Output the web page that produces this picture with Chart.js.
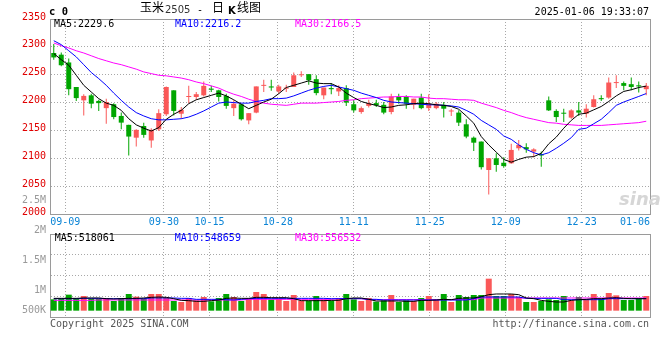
<!DOCTYPE html>
<html><head><meta charset="utf-8">
<script src="https://cdn.jsdelivr.net/npm/chart.js@4.4.1/dist/chart.umd.min.js"></script>
<style>
body{margin:0;background:#fff;}
#wrap{position:relative;width:660px;height:360px;overflow:hidden;background:#fff;}
canvas{position:absolute;left:0;}
.t{position:absolute;white-space:pre;font-family:'DejaVu Sans Mono',monospace;font-size:10px;line-height:10px;color:#000;}
.cj{position:absolute;white-space:pre;font-family:'Noto Sans CJK SC',sans-serif;font-size:12px;line-height:12px;color:#000;}
</style></head><body>
<div id="wrap">
<canvas id="pc" width="660" height="232" style="top:0"></canvas>
<canvas id="vc" width="660" height="170" style="top:190px"></canvas>
<div class="t" style="left:49px;top:6px;font-weight:bold;font-size:10.5px;line-height:10.5px">c 0</div>
<div class="cj" style="left:140px;top:1.4px">玉米</div>
<div class="t" style="left:165px;top:4.8px;font-family:'DejaVu Sans';color:#333">2505</div>
<div class="t" style="left:197px;top:4.8px">-</div>
<div class="cj" style="left:212px;top:1.4px">日</div>
<div class="t" style="left:228px;top:5.5px;font-family:'DejaVu Sans';font-weight:bold">K</div>
<div class="cj" style="left:237px;top:1.4px">线图</div>
<div class="t" style="right:11px;top:6.5px">2025-01-06 19:33:07</div>
<div class="t" id="pm5" style="left:54px;top:18.8px;color:#000"></div>
<div class="t" id="pm10" style="left:175px;top:18.8px;color:#0000ff"></div>
<div class="t" id="pm30" style="left:295px;top:18.8px;color:#ff00ff"></div>
<div class="t" id="vm5" style="left:54.7px;top:233.2px;color:#000"></div>
<div class="t" id="vm10" style="left:174.7px;top:233.2px;color:#0000ff"></div>
<div class="t" id="vm30" style="left:295px;top:233.2px;color:#ff00ff"></div>
<div class="t" style="left:50px;top:318.8px;color:#555">Copyright 2025 SINA.COM</div>
<div class="t" style="right:11px;top:318.5px;color:#555">http://finance.sina.com.cn</div>
<div class="t" style="left:619px;top:190px;font-family:'DejaVu Sans';font-size:18px;line-height:18px;font-weight:bold;font-style:italic;color:#d6d6d6">sina</div>
</div>
<script>
// ---------- data ----------
const DATE_LABELS = ['09-09','09-30','10-15','10-28','11-11','11-25','12-09','12-23','01-06'];
const DATE_IDX    = [2, 15, 21, 30, 40, 50, 60, 70, 79];

const OPEN  = [2289,2286,2272,2228,2204,2213,2203,2190,2197,2176,2160,2137,2158,2132,2152,2179,2222,2180,2210,2210,
               2213,2225,2222,2212,2190,2197,2168,2182,2230,2229,2220,2225,2228,2249,2251,2242,2213,2226,2220,2226,
               2197,2183,2194,2199,2196,2183,2210,2210,2196,2209,2190,2190,2196,2184,2182,2161,2137,2130,2079,2100,
               2092,2091,2118,2120,2112,2107,2204,2185,2181,2173,2186,2180,2192,2208,2209,2235,2235,2233,2231,2224];
const HIGH  = [2305,2290,2279,2228,2215,2216,2205,2207,2199,2182,2160,2152,2164,2154,2188,2229,2222,2192,2230,2219,
               2238,2230,2223,2216,2204,2198,2181,2229,2241,2241,2232,2232,2254,2256,2251,2249,2227,2235,2231,2231,
               2204,2193,2205,2205,2201,2216,2216,2213,2207,2216,2215,2201,2201,2189,2186,2170,2139,2130,2100,2109,
               2102,2126,2133,2127,2118,2112,2211,2188,2189,2188,2201,2197,2213,2213,2245,2249,2238,2245,2238,2235];
const LOW   = [2277,2265,2213,2203,2177,2190,2185,2162,2170,2152,2105,2121,2137,2119,2149,2176,2177,2171,2199,2205,
               2211,2219,2202,2189,2176,2168,2161,2181,2219,2221,2216,2219,2228,2246,2232,2213,2206,2215,2212,2194,
               2182,2180,2191,2192,2179,2179,2198,2189,2188,2188,2185,2188,2173,2176,2158,2136,2113,2080,2035,2076,
               2083,2090,2114,2110,2102,2085,2185,2165,2165,2171,2176,2173,2191,2203,2207,2226,2222,2222,2218,2213];
const CLOSE = [2281,2267,2224,2208,2212,2198,2199,2201,2174,2164,2139,2151,2142,2151,2181,2228,2185,2187,2211,2215,
               2230,2223,2210,2194,2198,2170,2181,2229,2231,2227,2229,2226,2249,2250,2240,2217,2227,2224,2226,2200,
               2186,2190,2199,2195,2182,2211,2204,2198,2207,2190,2198,2198,2189,2185,2164,2139,2128,2084,2100,2088,
               2086,2115,2124,2116,2116,2105,2186,2174,2180,2186,2182,2189,2206,2206,2236,2236,2230,2228,2229,2230];
const MA5   = [2288,2277,2267,2249,2231,2219,2207,2199,2195,2186,2171,2160,2154,2149,2155,2170,2179,2186,2198,2205,
               2209,2213,2217,2212,2205,2197,2189,2195,2201,2206,2216,2227,2231,2235,2239,2235,2234,2234,2228,2217,
               2209,2202,2198,2195,2191,2192,2195,2196,2198,2199,2198,2196,2195,2193,2188,2176,2163,2139,2124,2111,
               2098,2093,2098,2102,2103,2109,2126,2138,2154,2168,2179,2181,2187,2193,2202,2212,2220,2223,2227,2229.6];
const MA10  = [2311,2304,2293,2282,2268,2254,2243,2231,2217,2204,2192,2182,2176,2171,2169,2169,2170,2171,2174,2179,
               2185,2192,2199,2201,2200,2199,2199,2202,2204,2207,2207,2208,2212,2217,2222,2226,2229,2231,2228,2225,
               2222,2217,2213,2209,2204,2201,2200,2199,2198,2197,2196,2196,2195,2194,2192,2186,2179,2168,2160,2152,
               2140,2134,2124,2116,2110,2106,2110,2118,2127,2137,2152,2154,2162,2170,2182,2195,2201,2206,2211,2216.2];
const MA30  = [2307,2302,2298,2293,2289,2284,2279,2275,2271,2268,2264,2260,2255,2252,2249,2248,2246,2244,2241,2237,
               2234,2230,2226,2220,2215,2211,2206,2202,2199,2197,2196,2195,2197,2199,2199,2199,2200,2201,2202,2204,
               2205,2207,2208,2209,2210,2210,2211,2211,2210,2210,2208,2207,2207,2206,2205,2205,2204,2199,2195,2191,
               2186,2182,2177,2173,2170,2167,2164,2163,2161,2160,2159,2159,2159,2159,2160,2161,2162,2163,2164,2166.5];

// volume (thousands of lots)
const VOL   = [459,486,648,513,594,486,486,513,391,513, 675,567,486,675,675,513,391,351,513,418,
               553,378,513,675,553,391,486,755,675,459, 486,391,634,405,405,594,459,405,513,675,
               459,391,513,364,418,634,351,418,391,513, 594,432,675,351,634,553,634,634,1295,594,
               594,675,553,351,351,391,459,432,594,418, 553,459,675,486,715,621,432,432,513,594];
const VMA5  = [499,499,499,499,513,513,513,486,472,486, 499,499,513,540,553,540,486,418,405,378,
               378,405,432,499,513,499,499,540,540,526, 526,526,486,405,405,405,405,418,418,486,
               513,513,459,391,391,391,391,378,378,418, 418,432,459,445,499,513,513,567,648,675,
               675,675,648,513,486,418,378,351,351,418, 445,459,486,486,513,526,499,486,486,486];
const VMA10 = [486,486,486,486,499,499,499,486,486,486, 486,486,486,513,513,513,513,499,499,459,
               459,459,459,445,432,459,486,499,499,499, 499,499,499,499,499,499,499,486,486,486,
               486,486,459,459,432,432,432,432,432,432, 432,432,432,432,432,432,486,553,553,553,
               553,553,553,499,499,499,499,499,445,445, 445,445,445,445,486,486,486,486,486,486];
const VMA30 = [418,418,418,418,418,418,432,432,432,432, 432,432,432,432,432,432,432,432,432,432,
               432,432,432,432,432,432,459,459,459,459, 459,459,459,459,459,459,459,459,486,486,
               486,486,445,445,445,445,445,445,445,445, 445,445,445,445,445,445,445,513,513,513,
               513,513,513,513,513,513,513,513,513,513, 513,513,513,513,513,513,513,513,513,513];

const PRICE_LEGEND = ['MA5:2229.6','MA10:2216.2','MA30:2166.5'];
const VOL_LEGEND   = ['MA5:518061','MA10:548659','MA30:556532'];
const VOL_TICK_VALUES = [2500000, 2000000, 1500000, 1000000, 500000];
const VOL_TICK_LABELS = ['2.5M','2M','1.5M','1M','500K'];

// ---------- styles ----------
const UP = '#fa5858', DOWN = '#00a600';
const GRID = '#a8a8a8', BORDER = '#9a9a9a', DASH = [1,2];
const FONT = {family:'DejaVu Sans Mono', size:10};

document.getElementById('pm5').textContent = PRICE_LEGEND[0];
document.getElementById('pm10').textContent = PRICE_LEGEND[1];
document.getElementById('pm30').textContent = PRICE_LEGEND[2];
document.getElementById('vm5').textContent = VOL_LEGEND[0];
document.getElementById('vm10').textContent = VOL_LEGEND[1];
document.getElementById('vm30').textContent = VOL_LEGEND[2];

const N = OPEN.length;
const IDX = OPEN.map((_, i) => i);
const COLORS = IDX.map(i => CLOSE[i] >= OPEN[i] ? UP : DOWN);
const pts = arr => arr.map((v, i) => ({x: i, y: v}));

const borderAxis = (position) => ({
  type:'linear', position, min:0, max:1,
  grid:{display:false, drawTicks:false}, ticks:{display:false},
  border:{display:true, color:BORDER, width:1},
  afterFit: s => { if (position==='top'||position==='bottom') s.height = 0; else s.width = 0; }
});
const dateAxis = () => ({
  type:'linear', position:'bottom', min:0, max:N-1, offset:false,
  afterBuildTicks: s => { s.ticks = DATE_IDX.map(v => ({value:v})); },
  ticks:{display:false},
  grid:{color:GRID, lineWidth:1, drawTicks:false, offset:false},
  border:{display:true, color:BORDER, width:1, dash:DASH},
  afterFit: s => { s.height = 0; }
});
const lineDS = (data, color, xID, yID) => ({
  type:'line', data: pts(data), borderColor:color, borderWidth:1, pointRadius:0,
  tension:0, fill:false, xAxisID:xID, yAxisID:yID
});

const dateLabelPlugin = {
  id:'dateLabels',
  afterDraw(chart) {
    const sc = chart.scales.xd, ca = chart.chartArea, ctx = chart.ctx;
    ctx.save();
    ctx.font = '10px "DejaVu Sans Mono"';
    ctx.fillStyle = '#0a84d6';
    ctx.textBaseline = 'alphabetic';
    ctx.textAlign = 'left';
    DATE_IDX.forEach((idx, k) => {
      const s = DATE_LABELS[k];
      const w = ctx.measureText(s).width;
      let x = sc.getPixelForValue(idx) - w / 2;
      x = Math.max(ca.left, Math.min(x, ca.right - w));
      ctx.fillText(s, x, ca.bottom + 11);
    });
    ctx.restore();
  }
};

const common = {
  responsive:false, maintainAspectRatio:false, animation:false, devicePixelRatio:1, events:[],
  plugins:{legend:{display:false}, tooltip:{enabled:false}, title:{display:false}}
};

// ---------- price chart ----------
new Chart(document.getElementById('pc'), {
  type:'line',
  data:{datasets:[
    lineDS(MA5, '#000000', 'x', 'y'),
    lineDS(MA10, '#0000ff', 'x', 'y'),
    lineDS(MA30, '#ff00ff', 'x', 'y'),
    {type:'bar', data: IDX.map(i => ({x:i, y:[OPEN[i], CLOSE[i]]})), backgroundColor:COLORS,
     barThickness:5, minBarLength:1, grouped:false, borderWidth:0, inflateAmount:0, xAxisID:'x', yAxisID:'y'},
    {type:'bar', data: IDX.map(i => ({x:i, y:[LOW[i], HIGH[i]]})), backgroundColor:COLORS,
     barThickness:1, grouped:false, borderWidth:0, inflateAmount:0, xAxisID:'x', yAxisID:'y'}
  ]},
  options:Object.assign({}, common, {
    layout:{padding:{left:0, right:10, top:19, bottom:18}},
    scales:{
      x:{type:'linear', min:-0.5, max:N-0.5, display:false, offset:false},
      xd: dateAxis(),
      xt: borderAxis('top'),
      y:{type:'linear', position:'left', min:2000, max:2350,
         ticks:{stepSize:50, color:'#e00000', font:FONT, padding:4, labelOffset:-2, autoSkip:false,
                callback: v => String(v)},
         grid:{color:GRID, lineWidth:1, drawTicks:false},
         border:{display:true, color:BORDER, width:1, dash:DASH},
         afterFit: s => { s.width = 50; }},
      yr: borderAxis('right')
    }
  }),
  plugins:[dateLabelPlugin]
});

// ---------- volume chart ----------
new Chart(document.getElementById('vc'), {
  type:'line',
  data:{datasets:[
    lineDS(VMA5.map(v => v*1000), '#000000', 'xv', 'yv'),
    lineDS(VMA10.map(v => v*1000), '#0000ff', 'xv', 'yv'),
    lineDS(VMA30.map(v => v*1000), '#ff00ff', 'xv', 'yv'),
    {type:'bar', data: IDX.map(i => ({x:i, y:VOL[i]*1000})), backgroundColor:COLORS,
     barThickness:6, grouped:false, borderWidth:0, inflateAmount:0, xAxisID:'xv', yAxisID:'yv'}
  ]},
  options:Object.assign({}, common, {
    layout:{padding:{left:0, right:10, top:44, bottom:43}},
    scales:{
      xv:{type:'linear', min:-0.5, max:N-0.5, display:false, offset:false},
      xd: dateAxis(),
      xvt: borderAxis('top'),
      yv:{type:'linear', position:'left', weight:0, min:-256000, max:3103000,
          afterBuildTicks: s => { s.ticks = [0,1,2,3,4].map(k => ({value: s.min + k*(s.max-s.min)/4})); },
          ticks:{display:false},
          grid:{color:GRID, lineWidth:1, drawTicks:false},
          border:{display:true, color:BORDER, width:1, dash:DASH},
          afterFit: s => { s.width = 0; }},
      yl:{type:'linear', position:'left', weight:1, min:552000, max:1944600,
          afterBuildTicks: s => {
            const floor = s.min + (s.max - s.min) * 0.084; // keep the lowest label inside the panel
            s.ticks = VOL_TICK_VALUES.map(v => ({value: Math.max(v, floor)}));
          },
          ticks:{callback:(v, i) => VOL_TICK_LABELS[i], color:'#9a9a9a', font:FONT, padding:4, autoSkip:false},
          grid:{display:false, drawTicks:false},
          border:{display:false},
          afterFit: s => { s.width = 50; }},
      yvr: borderAxis('right')
    }
  })
});
</script>
</body></html>
